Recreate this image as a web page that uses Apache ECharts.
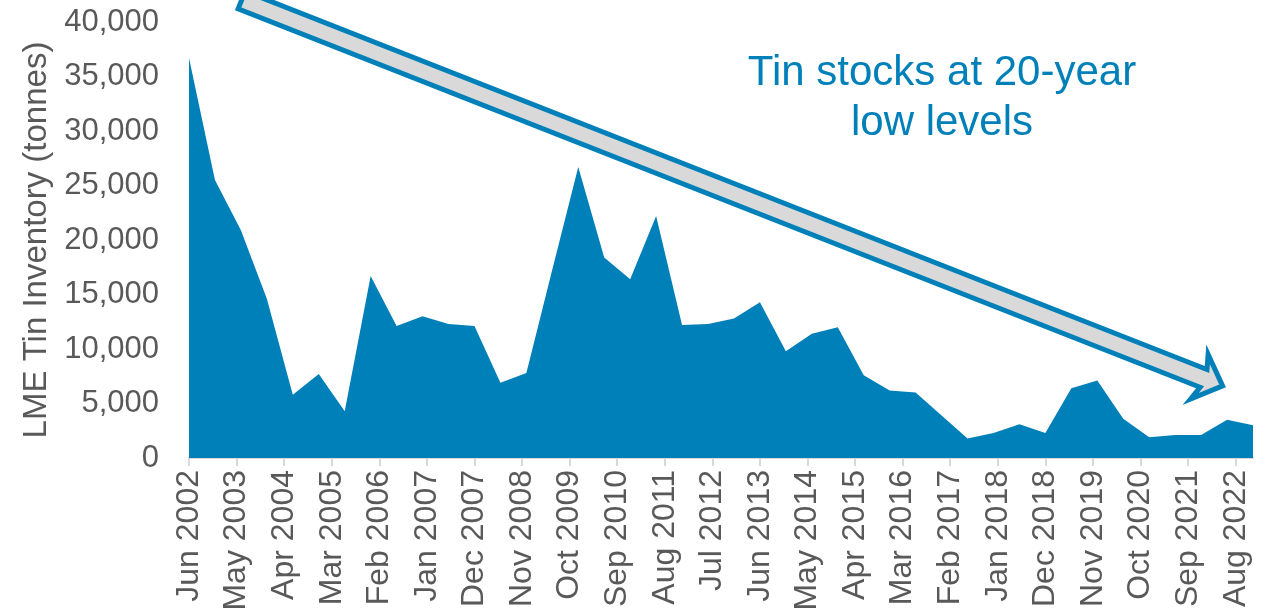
<!DOCTYPE html>
<html>
<head>
<meta charset="utf-8">
<script src="https://cdn.jsdelivr.net/npm/echarts@6/dist/echarts.min.js"></script>
<style>
html,body{margin:0;padding:0;background:#fff;}
#chart{width:1276px;height:616px;}
</style>
</head>
<body>
<div id="chart"></div>
<script>
// ---- Data (semi-annual readings, Jun 2002 .. Dec 2022) ----
const startYear = 2002;
const startMonth = 5;           // June (0-based)
const monthsTotal = 247;        // Jun 2002 .. Dec 2022, monthly axis
const stepMonths = 6;           // one reading every 6 months
const monthNames = ['Jan','Feb','Mar','Apr','May','Jun','Jul','Aug','Sep','Oct','Nov','Dec'];
const stockValues = [
  36700, 25500, 20900, 14600, 5800, 7700, 4300, 16700, 12100, 13000,
  12300, 12100, 6900, 7800, 17300, 26700, 18400, 16400, 22200, 12200,
  12300, 12800, 14300, 9800, 11400, 12000, 7600, 6200, 6000, 3900,
  1800, 2300, 3100, 2300, 6400, 7100, 3600, 1900, 2100, 2100,
  3500, 3000
];
const yTicks = [0, 5000, 10000, 15000, 20000, 25000, 30000, 35000, 40000];
const yAxisTitle = 'LME Tin Inventory (tonnes)';
const noteLines = ['Tin stocks at 20-year', 'low levels'];

// ---- Build axis categories and series ----
const categories = [];
for (let i = 0; i < monthsTotal; i++) {
  const m = (startMonth + i) % 12;
  const y = startYear + Math.floor((startMonth + i) / 12);
  categories.push(monthNames[m] + ' ' + y);
}
const seriesData = new Array(monthsTotal).fill(null);
stockValues.forEach((v, i) => { seriesData[i * stepMonths] = v; });

const FONT = '"Liberation Sans", Arial, Helvetica, sans-serif';
const BLUE = '#0080B9';

// ---- Arrow annotation (decorative shape) ----
const tail = [241.6, 0.1];
const tip = [1222.6, 385.9];
const dx = tip[0] - tail[0], dy = tip[1] - tail[1];
const len = Math.hypot(dx, dy);
const d = [dx / len, dy / len];
const n = [-d[1], d[0]];
function pt(along, perp) {
  return [tip[0] + along * d[0] + perp * n[0], tip[1] + along * d[1] + perp * n[1]];
}
const hw = 9.5;
const arrowPoints = [
  pt(-len, -hw), pt(-20.5, -hw), pt(-25, -24), pt(0, 0),
  pt(-25, 24), pt(-20.5, hw), pt(-len, hw)
];

const chart = echarts.init(document.getElementById('chart'), null, {renderer: 'canvas'});
chart.setOption({
  backgroundColor: '#ffffff',
  animation: false,
  grid: {left: 189, right: 23, top: 22, bottom: 158, containLabel: false},
  xAxis: {
    type: 'category',
    data: categories,
    boundaryGap: false,
    axisLine: {show: true, lineStyle: {color: '#D9D9D9', width: 2}},
    axisTick: {show: true, interval: 10, length: 8, lineStyle: {color: '#D9D9D9', width: 2}},
    axisLabel: {
      interval: 10, rotate: 90, margin: 12,
      color: '#595959', fontFamily: FONT, fontSize: 32
    },
    splitLine: {show: false}
  },
  yAxis: {
    type: 'value',
    min: yTicks[0], max: yTicks[yTicks.length - 1], interval: yTicks[1] - yTicks[0],
    name: yAxisTitle,
    nameLocation: 'middle',
    nameRotate: 90,
    nameGap: 133,
    nameTextStyle: {color: '#595959', fontFamily: FONT, fontSize: 33},
    axisLine: {show: false},
    axisTick: {show: false},
    splitLine: {show: false},
    axisLabel: {
      margin: 30, color: '#595959', fontFamily: FONT, fontSize: 31,
      formatter: v => v.toLocaleString('en-US')
    }
  },
  series: [{
    type: 'line',
    data: seriesData,
    connectNulls: true,
    showSymbol: false,
    symbol: 'none',
    lineStyle: {width: 0, color: BLUE},
    areaStyle: {color: BLUE, opacity: 1},
    z: 1
  }],
  graphic: [
    {
      type: 'polygon',
      shape: {points: arrowPoints},
      style: {fill: '#D9D9D9', stroke: BLUE, lineWidth: 5, lineJoin: 'miter'},
      z: 10
    },
    {
      type: 'text', x: 942, y: 73,
      style: {text: noteLines[0], fill: BLUE, font: '42px ' + FONT, textAlign: 'center', textVerticalAlign: 'middle'},
      z: 10
    },
    {
      type: 'text', x: 942, y: 123,
      style: {text: noteLines[1], fill: BLUE, font: '42px ' + FONT, textAlign: 'center', textVerticalAlign: 'middle'},
      z: 10
    }
  ]
});
</script>
</body>
</html>
